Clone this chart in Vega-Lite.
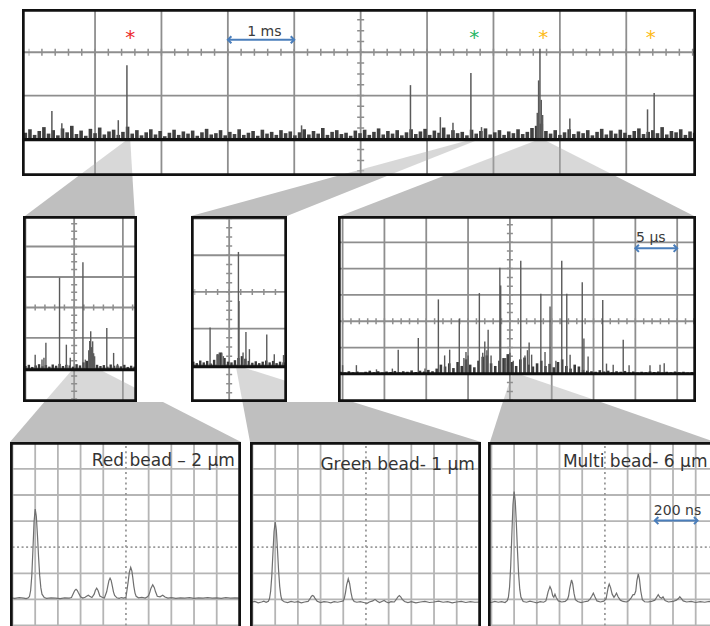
{
"$schema": "https://vega.github.io/schema/vega-lite/v6.json",
"padding": {"top": 9, "left": 0, "right": 0, "bottom": 0},
"background": "white",
"spacing": 0,
"config": {
  "view": {"stroke": null},
  "concat": {"spacing": 0},
  "axis": {"disable": true, "labels": false, "ticks": false, "domain": false, "grid": false, "minExtent": 0, "maxExtent": 0},
  "text": {"font": "DejaVu Sans"}
},
"vconcat": [
{
 "bounds": "flush",
 "hconcat": [
  {"width": 22, "height": 167, "mark": {"type": "rect", "opacity": 0}},
  {"width": 674, "height": 167,
   "layer": [
    {"data": {"values": [{"v":1},{"v":2},{"v":3},{"v":4},{"v":5},{"v":6},{"v":7},{"v":8},{"v":9}]},
     "mark": {"type":"rule","color":"#8e8e8e","strokeWidth":1.8,"clip":true},
     "encoding": {"x": {"field":"v","type":"quantitative","scale":{"domain":[-0.1,10.05],"nice":false,"zero":false},"axis":null}}},
    {"data": {"values": [{"v":0},{"v":1},{"v":2}]},
     "mark": {"type":"rule","color":"#8e8e8e","strokeWidth":1.8,"clip":true},
     "encoding": {"y": {"field":"v","type":"quantitative","scale":{"domain":[-0.86,3],"nice":false,"zero":false},"axis":null}}},
    {"data": {"values": [
      {"g":"L","y":-0.02,"x":1.48,"x2":1.53},{"g":"L","y":-0.86,"x":0.748,"x2":1.563},
      {"g":"M","y":-0.02,"x":6.65,"x2":6.77},{"g":"M","y":-0.86,"x":4.644,"x2":5.396},
      {"g":"R","y":-0.02,"x":7.67,"x2":7.76},{"g":"R","y":-0.86,"x":6.249,"x2":8.838}]},
     "mark": {"type":"area","orient":"horizontal","color":"#a8a8a8","opacity":0.45,"clip":true},
     "encoding": {"x": {"field":"x","type":"quantitative","stack":null},"x2": {"field":"x2"},"y": {"field":"y","type":"quantitative"},"detail": {"field":"g"}}},
    {"data": {"values": [{}]}, "mark": {"type":"rule","color":"#8e8e8e","strokeWidth":7,"strokeDash":[1.5,11.78],"strokeDashOffset":0.75,"clip":true},
     "encoding": {"x":{"datum":0},"x2":{"datum":10.05},"y":{"datum":2}}},
    {"data": {"values": [{}]}, "mark": {"type":"rule","color":"#8e8e8e","strokeWidth":7,"strokeDash":[1.5,9.315],"strokeDashOffset":0.75,"clip":true},
     "encoding": {"x":{"datum":5},"y":{"datum":-0.75},"y2":{"datum":3}}},
    {"data": {"values": [
      {"x":-0.05,"h":0.14},{"x":0.02,"h":0.22},{"x":0.09,"h":0.09},{"x":0.16,"h":0.18},{"x":0.23,"h":0.27},{"x":0.30,"h":0.12},{"x":0.37,"h":0.2},{"x":0.44,"h":0.08},{"x":0.51,"h":0.24},{"x":0.58,"h":0.15},{"x":0.65,"h":0.3},{"x":0.72,"h":0.11},
      {"x":0.79,"h":0.19},{"x":0.86,"h":0.07},{"x":0.93,"h":0.23},{"x":1.00,"h":0.13},{"x":1.07,"h":0.26},{"x":1.14,"h":0.1},{"x":1.21,"h":0.17},{"x":1.28,"h":0.21},{"x":1.35,"h":0.09},{"x":1.42,"h":0.16},{"x":1.49,"h":0.28},{"x":1.56,"h":0.12},
      {"x":1.63,"h":0.2},{"x":1.70,"h":0.08},{"x":1.77,"h":0.15},{"x":1.84,"h":0.22},{"x":1.91,"h":0.1},{"x":1.98,"h":0.18},{"x":2.05,"h":0.06},{"x":2.12,"h":0.14},{"x":2.19,"h":0.21},{"x":2.26,"h":0.09},{"x":2.33,"h":0.17},{"x":2.40,"h":0.12},
      {"x":2.47,"h":0.19},{"x":2.54,"h":0.07},{"x":2.61,"h":0.15},{"x":2.68,"h":0.23},{"x":2.75,"h":0.1},{"x":2.82,"h":0.13},{"x":2.89,"h":0.2},{"x":2.96,"h":0.08},{"x":3.03,"h":0.16},{"x":3.10,"h":0.11},{"x":3.17,"h":0.22},{"x":3.24,"h":0.09},
      {"x":3.31,"h":0.14},{"x":3.38,"h":0.18},{"x":3.45,"h":0.07},{"x":3.52,"h":0.21},{"x":3.59,"h":0.12},{"x":3.66,"h":0.16},{"x":3.73,"h":0.09},{"x":3.80,"h":0.2},{"x":3.87,"h":0.13},{"x":3.94,"h":0.17},{"x":4.01,"h":0.08},{"x":4.08,"h":0.15},
      {"x":4.15,"h":0.22},{"x":4.22,"h":0.1},{"x":4.29,"h":0.18},{"x":4.36,"h":0.12},{"x":4.43,"h":0.25},{"x":4.50,"h":0.09},{"x":4.57,"h":0.16},{"x":4.64,"h":0.2},{"x":4.71,"h":0.11},{"x":4.78,"h":0.14},{"x":4.85,"h":0.07},{"x":4.92,"h":0.19},
      {"x":4.99,"h":0.13},{"x":5.06,"h":0.21},{"x":5.13,"h":0.09},{"x":5.20,"h":0.16},{"x":5.27,"h":0.24},{"x":5.34,"h":0.1},{"x":5.41,"h":0.18},{"x":5.48,"h":0.12},{"x":5.55,"h":0.2},{"x":5.62,"h":0.08},{"x":5.69,"h":0.15},{"x":5.76,"h":0.22},
      {"x":5.83,"h":0.11},{"x":5.90,"h":0.17},{"x":5.97,"h":0.23},{"x":6.04,"h":0.09},{"x":6.11,"h":0.19},{"x":6.18,"h":0.14},{"x":6.25,"h":0.26},{"x":6.32,"h":0.1},{"x":6.39,"h":0.2},{"x":6.46,"h":0.13},{"x":6.53,"h":0.16},{"x":6.60,"h":0.08},
      {"x":6.67,"h":0.21},{"x":6.74,"h":0.12},{"x":6.81,"h":0.18},{"x":6.88,"h":0.24},{"x":6.95,"h":0.1},{"x":7.02,"h":0.15},{"x":7.09,"h":0.2},{"x":7.16,"h":0.09},{"x":7.23,"h":0.17},{"x":7.30,"h":0.13},{"x":7.37,"h":0.22},{"x":7.44,"h":0.11},
      {"x":7.51,"h":0.16},{"x":7.58,"h":0.25},{"x":7.65,"h":0.3},{"x":7.72,"h":0.35},{"x":7.79,"h":0.18},{"x":7.86,"h":0.12},{"x":7.93,"h":0.2},{"x":8.00,"h":0.09},{"x":8.07,"h":0.15},{"x":8.14,"h":0.22},{"x":8.21,"h":0.11},{"x":8.28,"h":0.17},
      {"x":8.35,"h":0.13},{"x":8.42,"h":0.2},{"x":8.49,"h":0.08},{"x":8.56,"h":0.16},{"x":8.63,"h":0.23},{"x":8.70,"h":0.1},{"x":8.77,"h":0.19},{"x":8.84,"h":0.12},{"x":8.91,"h":0.21},{"x":8.98,"h":0.14},{"x":9.05,"h":0.09},{"x":9.12,"h":0.18},
      {"x":9.19,"h":0.24},{"x":9.26,"h":0.11},{"x":9.33,"h":0.16},{"x":9.40,"h":0.2},{"x":9.47,"h":0.13},{"x":9.54,"h":0.27},{"x":9.61,"h":0.1},{"x":9.68,"h":0.18},{"x":9.75,"h":0.15},{"x":9.82,"h":0.22},{"x":9.89,"h":0.09},{"x":9.96,"h":0.17},{"x":10.03,"h":0.14}]},
     "mark": {"type":"rule","color":"#404040","strokeWidth":3.6,"clip":true},
     "encoding": {"x":{"field":"x","type":"quantitative"},"y":{"field":"h","type":"quantitative"},"y2":{"datum":-0.02}}},
    {"data": {"values": [
      {"x":0.35,"h":0.64},{"x":0.5,"h":0.36},{"x":1.35,"h":0.43},{"x":1.48,"h":1.7},{"x":4.11,"h":0.31},{"x":5.75,"h":1.24},{"x":6.2,"h":0.5},{"x":6.39,"h":0.37},{"x":6.66,"h":1.52},{"x":6.82,"h":0.27},
      {"x":7.66,"h":0.6},{"x":7.68,"h":1.35},{"x":7.7,"h":2.08},{"x":7.72,"h":0.9},{"x":7.74,"h":0.55},{"x":8.15,"h":0.47},{"x":9.32,"h":0.68},{"x":9.42,"h":1.06}]},
     "mark": {"type":"rule","color":"#5a5a5a","strokeWidth":1.5,"clip":true},
     "encoding": {"x":{"field":"x","type":"quantitative"},"y":{"field":"h","type":"quantitative"},"y2":{"datum":-0.02}}},
    {"data": {"values": [{}]}, "mark": {"type":"rule","color":"#111111","strokeWidth":3.4,"clip":true},
     "encoding": {"x":{"datum":-0.1},"x2":{"datum":10.05},"y":{"datum":-0.02}}},
    {"data": {"values": [{"x":1.53,"y":2.18,"bead":"red"},{"x":6.71,"y":2.18,"bead":"green"},{"x":7.75,"y":2.18,"bead":"multi"},{"x":9.37,"y":2.18,"bead":"multi"}]},
     "mark": {"type":"text","text":"*","fontSize":20,"align":"center","baseline":"alphabetic"},
     "encoding": {"x":{"field":"x","type":"quantitative"},"y":{"field":"y","type":"quantitative"},
      "color":{"field":"bead","type":"nominal","scale":{"domain":["red","green","multi"],"range":["#ec2a2d","#27b565","#fdbb17"]},"legend":null}}},
    {"data": {"values": [{"x1":3.0,"x2":4.0,"y":2.29}]}, "mark": {"type":"rule","color":"#4a7ebb","strokeWidth":2},
     "encoding": {"x":{"field":"x1","type":"quantitative"},"x2":{"field":"x2"},"y":{"field":"y","type":"quantitative"}}},
    {"data": {"values": [{"x1":3.0,"x2":4.0,"y":2.29}]}, "mark": {"type":"point","shape":"M1,-1L0,0L1,1","filled":false,"size":50,"strokeWidth":2,"color":"#4a7ebb","opacity":1},
     "encoding": {"x":{"field":"x1","type":"quantitative"},"y":{"field":"y","type":"quantitative"}}},
    {"data": {"values": [{"x1":3.0,"x2":4.0,"y":2.29}]}, "mark": {"type":"point","shape":"M-1,-1L0,0L-1,1","filled":false,"size":50,"strokeWidth":2,"color":"#4a7ebb","opacity":1},
     "encoding": {"x":{"field":"x2","type":"quantitative"},"y":{"field":"y","type":"quantitative"}}},
    {"data": {"values": [{"x":3.55,"y":2.38,"label":"1 ms"}]}, "mark": {"type":"text","fontSize":14,"align":"center","baseline":"alphabetic","color":"#3a3a3a"},
     "encoding": {"x":{"field":"x","type":"quantitative"},"y":{"field":"y","type":"quantitative"},"text":{"field":"label"}}},
    {"data": {"values": [{}]}, "mark": {"type":"rule","color":"#111111","strokeWidth":5.4,"clip":true},
     "encoding": {"x":{"datum":-0.1},"y":{"datum":-0.86},"y2":{"datum":3}}},
    {"data": {"values": [{}]}, "mark": {"type":"rule","color":"#111111","strokeWidth":5.4,"clip":true},
     "encoding": {"x":{"datum":10.05},"y":{"datum":-0.86},"y2":{"datum":3}}},
    {"data": {"values": [{}]}, "mark": {"type":"rule","color":"#111111","strokeWidth":5.4,"clip":true},
     "encoding": {"x":{"datum":-0.1},"x2":{"datum":10.05},"y":{"datum":3}}},
    {"data": {"values": [{}]}, "mark": {"type":"rule","color":"#111111","strokeWidth":5.4,"clip":true},
     "encoding": {"x":{"datum":-0.1},"x2":{"datum":10.05},"y":{"datum":-0.86}}}
   ]}
 ]
},
{"width": 710, "height": 40,
 "data": {"values": [
   {"g":"L","y":1,"x":0.748,"x2":1.563},{"g":"L","y":0,"x":-0.055,"x2":1.6},
   {"g":"M","y":1,"x":4.644,"x2":5.396},{"g":"M","y":0,"x":2.445,"x2":3.89},
   {"g":"R","y":1,"x":6.249,"x2":8.838},{"g":"R","y":0,"x":4.69,"x2":10.02}]},
 "mark": {"type":"area","orient":"horizontal","color":"#bfbfbf","opacity":1,"clip":true},
 "encoding": {
   "x": {"field":"x","type":"quantitative","stack":null,"scale":{"domain":[-0.431,10.261],"nice":false,"zero":false},"axis":null},
   "x2": {"field":"x2"},
   "y": {"field":"y","type":"quantitative","scale":{"domain":[0,1],"nice":false,"zero":false},"axis":null},
   "detail": {"field":"g"}}
},
{
 "bounds": "flush",
 "hconcat": [
  {"width": 23, "height": 186, "mark": {"type": "rect", "opacity": 0}},
  {"width": 114, "height": 186,
   "layer": [
    {"data": {"values": [{"v":-1},{"v":0},{"v":1}]},
     "mark": {"type":"rule","color":"#8e8e8e","strokeWidth":1.8,"clip":true},
     "encoding": {"x": {"field":"v","type":"quantitative","scale":{"domain":[-1.05,1.29],"nice":false,"zero":false},"axis":null}}},
    {"data": {"values": [{"v":1},{"v":2},{"v":3},{"v":4},{"v":5}]},
     "mark": {"type":"rule","color":"#8e8e8e","strokeWidth":1.8,"clip":true},
     "encoding": {"y": {"field":"v","type":"quantitative","scale":{"domain":[-0.1,6],"nice":false,"zero":false},"axis":null}}},
    {"data": {"values": [{"g":"A","y":0.96,"x":-0.04,"x2":0.53},{"g":"A","y":-0.1,"x":-0.613,"x2":1.82}]},
     "mark": {"type":"area","orient":"horizontal","color":"#a8a8a8","opacity":0.45,"clip":true},
     "encoding": {"x": {"field":"x","type":"quantitative","stack":null},"x2": {"field":"x2"},"y": {"field":"y","type":"quantitative"},"detail": {"field":"g"}}},
    {"data": {"values": [{}]}, "mark": {"type":"rule","color":"#8e8e8e","strokeWidth":6,"strokeDash":[1.5,8.244],"strokeDashOffset":0.75,"clip":true},
     "encoding": {"x":{"datum":-1},"x2":{"datum":1.29},"y":{"datum":3}}},
    {"data": {"values": [{}]}, "mark": {"type":"rule","color":"#8e8e8e","strokeWidth":6,"strokeDash":[1.5,6.12],"strokeDashOffset":0.75,"clip":true},
     "encoding": {"x":{"datum":0},"y":{"datum":0},"y2":{"datum":6}}},
    {"data": {"values": [
      {"x":-1.0,"h":1.08},{"x":-0.93,"h":1.12},{"x":-0.86,"h":1.05},{"x":-0.79,"h":1.1},{"x":-0.72,"h":1.14},{"x":-0.65,"h":1.07},{"x":-0.58,"h":1.11},{"x":-0.51,"h":1.06},{"x":-0.44,"h":1.13},{"x":-0.37,"h":1.09},{"x":-0.3,"h":1.15},
      {"x":-0.23,"h":1.08},{"x":-0.16,"h":1.12},{"x":-0.09,"h":1.1},{"x":-0.02,"h":1.06},{"x":0.05,"h":1.14},{"x":0.12,"h":1.1},{"x":0.19,"h":1.2},{"x":0.26,"h":1.25},{"x":0.33,"h":1.3},{"x":0.4,"h":1.18},{"x":0.47,"h":1.12},
      {"x":0.54,"h":1.08},{"x":0.61,"h":1.11},{"x":0.68,"h":1.06},{"x":0.75,"h":1.13},{"x":0.82,"h":1.09},{"x":0.89,"h":1.1},{"x":0.96,"h":1.07},{"x":1.03,"h":1.12},{"x":1.1,"h":1.05},{"x":1.17,"h":1.09},{"x":1.24,"h":1.06}]},
     "mark": {"type":"rule","color":"#3a3a3a","strokeWidth":2.4,"clip":true},
     "encoding": {"x":{"field":"x","type":"quantitative"},"y":{"field":"h","type":"quantitative"},"y2":{"datum":0.96}}},
    {"data": {"values": [
      {"x":-0.8,"h":1.45},{"x":-0.66,"h":1.29},{"x":-0.62,"h":1.35},{"x":-0.58,"h":1.84},{"x":-0.3,"h":3.98},{"x":-0.16,"h":1.78},{"x":-0.08,"h":1.35},{"x":0.18,"h":4.48},{"x":0.23,"h":1.29},
      {"x":0.3,"h":1.6},{"x":0.32,"h":1.9},{"x":0.34,"h":2.22},{"x":0.36,"h":1.7},{"x":0.38,"h":1.89},{"x":0.4,"h":1.5},{"x":0.42,"h":1.4},{"x":0.67,"h":2.33},{"x":0.81,"h":1.51},{"x":0.89,"h":1.15}]},
     "mark": {"type":"rule","color":"#5a5a5a","strokeWidth":1.4,"clip":true},
     "encoding": {"x":{"field":"x","type":"quantitative"},"y":{"field":"h","type":"quantitative"},"y2":{"datum":0.96}}},
    {"data": {"values": [{}]}, "mark": {"type":"rule","color":"#111111","strokeWidth":3,"clip":true},
     "encoding": {"x":{"datum":-1.05},"x2":{"datum":1.29},"y":{"datum":0.96}}},
    {"data": {"values": [{}]}, "mark": {"type":"rule","color":"#111111","strokeWidth":5.4,"clip":true},
     "encoding": {"x":{"datum":-1.05},"y":{"datum":-0.1},"y2":{"datum":6}}},
    {"data": {"values": [{}]}, "mark": {"type":"rule","color":"#111111","strokeWidth":5.4,"clip":true},
     "encoding": {"x":{"datum":1.29},"y":{"datum":-0.1},"y2":{"datum":6}}},
    {"data": {"values": [{}]}, "mark": {"type":"rule","color":"#111111","strokeWidth":5.4,"clip":true},
     "encoding": {"x":{"datum":-1.05},"x2":{"datum":1.29},"y":{"datum":6}}},
    {"data": {"values": [{}]}, "mark": {"type":"rule","color":"#111111","strokeWidth":5.4,"clip":true},
     "encoding": {"x":{"datum":-1.05},"x2":{"datum":1.29},"y":{"datum":-0.1}}}
   ]},
  {"width": 54, "height": 186, "mark": {"type": "rect", "opacity": 0}},
  {"width": 96, "height": 186,
   "layer": [
    {"data": {"values": [{"v":0}]},
     "mark": {"type":"rule","color":"#8e8e8e","strokeWidth":1.8,"clip":true},
     "encoding": {"x": {"field":"v","type":"quantitative","scale":{"domain":[-0.66,1.0],"nice":false,"zero":false},"axis":null}}},
    {"data": {"values": [{"v":1},{"v":2},{"v":3},{"v":4},{"v":5}]},
     "mark": {"type":"rule","color":"#8e8e8e","strokeWidth":1.8,"clip":true},
     "encoding": {"y": {"field":"v","type":"quantitative","scale":{"domain":[0,5.07],"nice":false,"zero":false},"axis":null}}},
    {"data": {"values": [{"g":"A","y":0.96,"x":0.118,"x2":0.205},{"g":"A","y":0,"x":0.23,"x2":2.14}]},
     "mark": {"type":"area","orient":"horizontal","color":"#a8a8a8","opacity":0.45,"clip":true},
     "encoding": {"x": {"field":"x","type":"quantitative","stack":null},"x2": {"field":"x2"},"y": {"field":"y","type":"quantitative"},"detail": {"field":"g"}}},
    {"data": {"values": [{}]}, "mark": {"type":"rule","color":"#8e8e8e","strokeWidth":6,"strokeDash":[1.5,10.066],"strokeDashOffset":0.75,"clip":true},
     "encoding": {"x":{"datum":-0.6},"x2":{"datum":1.0},"y":{"datum":3}}},
    {"data": {"values": [{}]}, "mark": {"type":"rule","color":"#8e8e8e","strokeWidth":6,"strokeDash":[1.5,7.67],"strokeDashOffset":0.75,"clip":true},
     "encoding": {"x":{"datum":0},"y":{"datum":0},"y2":{"datum":5.07}}},
    {"data": {"values": [
      {"x":-0.62,"h":1.1},{"x":-0.56,"h":1.06},{"x":-0.5,"h":1.13},{"x":-0.44,"h":1.08},{"x":-0.38,"h":1.12},{"x":-0.32,"h":1.05},{"x":-0.26,"h":1.15},{"x":-0.2,"h":1.3},{"x":-0.14,"h":1.35},
      {"x":-0.08,"h":1.2},{"x":-0.02,"h":1.1},{"x":0.04,"h":1.08},{"x":0.1,"h":1.14},{"x":0.16,"h":1.2},{"x":0.22,"h":1.25},{"x":0.28,"h":1.18},{"x":0.34,"h":1.12},{"x":0.4,"h":1.07},
      {"x":0.46,"h":1.11},{"x":0.52,"h":1.06},{"x":0.58,"h":1.1},{"x":0.64,"h":1.13},{"x":0.7,"h":1.08},{"x":0.76,"h":1.12},{"x":0.82,"h":1.06},{"x":0.88,"h":1.1},{"x":0.94,"h":1.08}]},
     "mark": {"type":"rule","color":"#3a3a3a","strokeWidth":2.4,"clip":true},
     "encoding": {"x":{"field":"x","type":"quantitative"},"y":{"field":"h","type":"quantitative"},"y2":{"datum":0.96}}},
    {"data": {"values": [
      {"x":-0.33,"h":2.03},{"x":-0.2,"h":1.3},{"x":-0.17,"h":1.35},{"x":-0.13,"h":1.33},{"x":-0.1,"h":1.25},{"x":0.16,"h":4.09},{"x":0.17,"h":2.75},{"x":0.24,"h":1.35},{"x":0.29,"h":1.91},
      {"x":0.35,"h":1.44},{"x":0.65,"h":1.84},{"x":0.78,"h":1.3},{"x":0.94,"h":1.28}]},
     "mark": {"type":"rule","color":"#5a5a5a","strokeWidth":1.4,"clip":true},
     "encoding": {"x":{"field":"x","type":"quantitative"},"y":{"field":"h","type":"quantitative"},"y2":{"datum":0.96}}},
    {"data": {"values": [{}]}, "mark": {"type":"rule","color":"#111111","strokeWidth":3,"clip":true},
     "encoding": {"x":{"datum":-0.66},"x2":{"datum":1.0},"y":{"datum":0.96}}},
    {"data": {"values": [{}]}, "mark": {"type":"rule","color":"#111111","strokeWidth":5.4,"clip":true},
     "encoding": {"x":{"datum":-0.66},"y":{"datum":0},"y2":{"datum":5.07}}},
    {"data": {"values": [{}]}, "mark": {"type":"rule","color":"#111111","strokeWidth":5.4,"clip":true},
     "encoding": {"x":{"datum":1.0},"y":{"datum":0},"y2":{"datum":5.07}}},
    {"data": {"values": [{}]}, "mark": {"type":"rule","color":"#111111","strokeWidth":5.4,"clip":true},
     "encoding": {"x":{"datum":-0.66},"x2":{"datum":1.0},"y":{"datum":5.07}}},
    {"data": {"values": [{}]}, "mark": {"type":"rule","color":"#111111","strokeWidth":5.4,"clip":true},
     "encoding": {"x":{"datum":-0.66},"x2":{"datum":1.0},"y":{"datum":0}}}
   ]},
  {"width": 51, "height": 186, "mark": {"type": "rect", "opacity": 0}},
  {"width": 358, "height": 186,
   "layer": [
    {"data": {"values": [{"v":-4},{"v":-3},{"v":-2},{"v":-1},{"v":0},{"v":1},{"v":2},{"v":3},{"v":4}]},
     "mark": {"type":"rule","color":"#8e8e8e","strokeWidth":1.8,"clip":true},
     "encoding": {"x": {"field":"v","type":"quantitative","scale":{"domain":[-4.11,4.45],"nice":false,"zero":false},"axis":null}}},
    {"data": {"values": [{"v":1},{"v":2},{"v":3},{"v":4},{"v":5},{"v":6}]},
     "mark": {"type":"rule","color":"#8e8e8e","strokeWidth":1.8,"clip":true},
     "encoding": {"y": {"field":"v","type":"quantitative","scale":{"domain":[-0.07,7],"nice":false,"zero":false},"axis":null}}},
    {"data": {"values": [{"g":"A","y":1.0,"x":0.053,"x2":0.196},{"g":"A","y":-0.07,"x":-0.168,"x2":2.174}]},
     "mark": {"type":"area","orient":"horizontal","color":"#a8a8a8","opacity":0.45,"clip":true},
     "encoding": {"x": {"field":"x","type":"quantitative","stack":null},"x2": {"field":"x2"},"y": {"field":"y","type":"quantitative"},"detail": {"field":"g"}}},
    {"data": {"values": [{}]}, "mark": {"type":"rule","color":"#8e8e8e","strokeWidth":6,"strokeDash":[1.5,6.864],"strokeDashOffset":0.75,"clip":true},
     "encoding": {"x":{"datum":-4},"x2":{"datum":4.45},"y":{"datum":3}}},
    {"data": {"values": [{}]}, "mark": {"type":"rule","color":"#8e8e8e","strokeWidth":6,"strokeDash":[1.5,7.27],"strokeDashOffset":0.75,"clip":true},
     "encoding": {"x":{"datum":0},"y":{"datum":0},"y2":{"datum":7}}},
    {"data": {"values": [
      {"x":-4.05,"h":1.08},{"x":-3.95,"h":1.05},{"x":-3.85,"h":1.1},{"x":-3.75,"h":1.06},{"x":-3.65,"h":1.09},{"x":-3.55,"h":1.04},{"x":-3.45,"h":1.08},{"x":-3.35,"h":1.12},{"x":-3.25,"h":1.06},{"x":-3.15,"h":1.1},
      {"x":-3.05,"h":1.05},{"x":-2.95,"h":1.09},{"x":-2.85,"h":1.07},{"x":-2.75,"h":1.11},{"x":-2.65,"h":1.06},{"x":-2.55,"h":1.1},{"x":-2.45,"h":1.08},{"x":-2.35,"h":1.13},{"x":-2.25,"h":1.07},{"x":-2.15,"h":1.12},
      {"x":-2.05,"h":1.09},{"x":-1.95,"h":1.15},{"x":-1.85,"h":1.1},{"x":-1.75,"h":1.2},{"x":-1.65,"h":1.35},{"x":-1.55,"h":1.28},{"x":-1.45,"h":1.4},{"x":-1.35,"h":1.22},{"x":-1.25,"h":1.45},{"x":-1.15,"h":1.3},
      {"x":-1.05,"h":1.55},{"x":-0.95,"h":1.35},{"x":-0.85,"h":1.25},{"x":-0.75,"h":1.5},{"x":-0.65,"h":1.65},{"x":-0.55,"h":1.7},{"x":-0.45,"h":1.4},{"x":-0.35,"h":1.3},{"x":-0.25,"h":1.5},{"x":-0.15,"h":1.6},
      {"x":-0.05,"h":1.75},{"x":0.05,"h":1.45},{"x":0.15,"h":1.3},{"x":0.25,"h":1.55},{"x":0.35,"h":1.62},{"x":0.45,"h":1.35},{"x":0.55,"h":1.28},{"x":0.65,"h":1.4},{"x":0.75,"h":1.5},{"x":0.85,"h":1.3},
      {"x":0.95,"h":1.38},{"x":1.05,"h":1.25},{"x":1.15,"h":1.45},{"x":1.25,"h":1.55},{"x":1.35,"h":1.3},{"x":1.45,"h":1.2},{"x":1.55,"h":1.35},{"x":1.65,"h":1.28},{"x":1.75,"h":1.15},{"x":1.85,"h":1.12},
      {"x":1.95,"h":1.1},{"x":2.05,"h":1.08},{"x":2.15,"h":1.14},{"x":2.25,"h":1.09},{"x":2.35,"h":1.12},{"x":2.45,"h":1.06},{"x":2.55,"h":1.1},{"x":2.65,"h":1.08},{"x":2.75,"h":1.11},{"x":2.85,"h":1.07},
      {"x":2.95,"h":1.09},{"x":3.05,"h":1.05},{"x":3.15,"h":1.08},{"x":3.25,"h":1.06},{"x":3.35,"h":1.1},{"x":3.45,"h":1.07},{"x":3.55,"h":1.09},{"x":3.65,"h":1.05},{"x":3.75,"h":1.08},{"x":3.85,"h":1.06},
      {"x":3.95,"h":1.09},{"x":4.05,"h":1.06},{"x":4.15,"h":1.08},{"x":4.25,"h":1.05},{"x":4.35,"h":1.07}]},
     "mark": {"type":"rule","color":"#3a3a3a","strokeWidth":2.6,"clip":true},
     "encoding": {"x":{"field":"x","type":"quantitative"},"y":{"field":"h","type":"quantitative"},"y2":{"datum":1.0}}},
    {"data": {"values": [
      {"x":-4.0,"h":1.33},{"x":-3.67,"h":1.33},{"x":-3.19,"h":1.17},{"x":-2.81,"h":1.2},{"x":-2.67,"h":1.92},{"x":-2.19,"h":2.36},{"x":-2.03,"h":1.2},{"x":-1.71,"h":3.83},{"x":-1.56,"h":1.7},{"x":-1.44,"h":1.92},
      {"x":-1.21,"h":3.09},{"x":-1.1,"h":1.6},{"x":-1.05,"h":1.83},{"x":-1.0,"h":1.7},{"x":-0.73,"h":4.07},{"x":-0.65,"h":1.8},{"x":-0.6,"h":2.23},{"x":-0.55,"h":1.9},{"x":-0.52,"h":2.68},{"x":-0.45,"h":1.7},
      {"x":-0.24,"h":5.03},{"x":-0.22,"h":4.36},{"x":-0.1,"h":1.6},{"x":0.0,"h":1.8},{"x":0.08,"h":1.5},{"x":0.26,"h":5.3},{"x":0.36,"h":1.7},{"x":0.42,"h":1.9},{"x":0.46,"h":2.19},{"x":0.52,"h":1.73},
      {"x":0.74,"h":4.04},{"x":0.84,"h":1.83},{"x":0.96,"h":3.56},{"x":1.1,"h":1.5},{"x":1.24,"h":5.3},{"x":1.36,"h":4.04},{"x":1.44,"h":1.73},{"x":1.73,"h":4.48},{"x":1.77,"h":2.34},{"x":1.87,"h":1.66},
      {"x":2.22,"h":3.81},{"x":2.31,"h":1.39},{"x":2.47,"h":1.35},{"x":2.71,"h":2.3},{"x":2.85,"h":1.33},{"x":3.35,"h":1.33},{"x":3.59,"h":1.35},{"x":3.69,"h":1.4}]},
     "mark": {"type":"rule","color":"#5a5a5a","strokeWidth":1.4,"clip":true},
     "encoding": {"x":{"field":"x","type":"quantitative"},"y":{"field":"h","type":"quantitative"},"y2":{"datum":1.0}}},
    {"data": {"values": [{}]}, "mark": {"type":"rule","color":"#111111","strokeWidth":3,"clip":true},
     "encoding": {"x":{"datum":-4.11},"x2":{"datum":4.45},"y":{"datum":1.0}}},
    {"data": {"values": [{"x1":3.0,"x2":4.0,"y":5.77}]}, "mark": {"type":"rule","color":"#4a7ebb","strokeWidth":2},
     "encoding": {"x":{"field":"x1","type":"quantitative"},"x2":{"field":"x2"},"y":{"field":"y","type":"quantitative"}}},
    {"data": {"values": [{"x1":3.0,"x2":4.0,"y":5.77}]}, "mark": {"type":"point","shape":"M1,-1L0,0L1,1","filled":false,"size":50,"strokeWidth":2,"color":"#4a7ebb","opacity":1},
     "encoding": {"x":{"field":"x1","type":"quantitative"},"y":{"field":"y","type":"quantitative"}}},
    {"data": {"values": [{"x1":3.0,"x2":4.0,"y":5.77}]}, "mark": {"type":"point","shape":"M-1,-1L0,0L-1,1","filled":false,"size":50,"strokeWidth":2,"color":"#4a7ebb","opacity":1},
     "encoding": {"x":{"field":"x2","type":"quantitative"},"y":{"field":"y","type":"quantitative"}}},
    {"data": {"values": [{"x":3.37,"y":6.02,"label":"5 μs"}]}, "mark": {"type":"text","fontSize":14,"align":"center","baseline":"alphabetic","color":"#3a3a3a"},
     "encoding": {"x":{"field":"x","type":"quantitative"},"y":{"field":"y","type":"quantitative"},"text":{"field":"label"}}},
    {"data": {"values": [{}]}, "mark": {"type":"rule","color":"#111111","strokeWidth":5.4,"clip":true},
     "encoding": {"x":{"datum":-4.11},"y":{"datum":-0.07},"y2":{"datum":7}}},
    {"data": {"values": [{}]}, "mark": {"type":"rule","color":"#111111","strokeWidth":5.4,"clip":true},
     "encoding": {"x":{"datum":4.45},"y":{"datum":-0.07},"y2":{"datum":7}}},
    {"data": {"values": [{}]}, "mark": {"type":"rule","color":"#111111","strokeWidth":5.4,"clip":true},
     "encoding": {"x":{"datum":-4.11},"x2":{"datum":4.45},"y":{"datum":7}}},
    {"data": {"values": [{}]}, "mark": {"type":"rule","color":"#111111","strokeWidth":5.4,"clip":true},
     "encoding": {"x":{"datum":-4.11},"x2":{"datum":4.45},"y":{"datum":-0.07}}}
   ]}
 ]
},
{
 "bounds": "flush",
 "hconcat": [
  {"width": 242, "height": 40,
   "data": {"values": [{"g":"A","y":1,"x":-3.6,"x2":1.63},{"g":"A","y":0,"x":-5.11,"x2":5.07}]},
   "mark": {"type":"area","orient":"horizontal","color":"#bfbfbf","opacity":1,"clip":true},
   "encoding": {
     "x": {"field":"x","type":"quantitative","stack":null,"scale":{"domain":[-5.551,5.11],"nice":false,"zero":false},"axis":null},
     "x2": {"field":"x2"},
     "y": {"field":"y","type":"quantitative","scale":{"domain":[0,1],"nice":false,"zero":false},"axis":null},
     "detail": {"field":"g"}}},
  {"width": 243, "height": 40,
   "data": {"values": [{"g":"A","y":1,"x":-5.44,"x2":-0.573},{"g":"A","y":0,"x":-5.11,"x2":5.07}]},
   "mark": {"type":"area","orient":"horizontal","color":"#bfbfbf","opacity":1,"clip":true},
   "encoding": {
     "x": {"field":"x","type":"quantitative","stack":null,"scale":{"domain":[-5.462,5.242],"nice":false,"zero":false},"axis":null},
     "x2": {"field":"x2"},
     "y": {"field":"y","type":"quantitative","scale":{"domain":[0,1],"nice":false,"zero":false},"axis":null},
     "detail": {"field":"g"}}},
  {"width": 225, "height": 40,
   "data": {"values": [{"g":"A","y":1,"x":-4.498,"x2":-0.181},{"g":"A","y":0,"x":-5.062,"x2":4.85}]},
   "mark": {"type":"area","orient":"horizontal","color":"#bfbfbf","opacity":1,"clip":true},
   "encoding": {
     "x": {"field":"x","type":"quantitative","stack":null,"scale":{"domain":[-5.282,4.63],"nice":false,"zero":false},"axis":null},
     "x2": {"field":"x2"},
     "y": {"field":"y","type":"quantitative","scale":{"domain":[0,1],"nice":false,"zero":false},"axis":null},
     "detail": {"field":"g"}}}
 ]
},
{
 "bounds": "flush",
 "hconcat": [
  {"width": 10, "height": 184, "mark": {"type": "rect", "opacity": 0}},
  {"width": 231, "height": 184,
   "layer": [
    {"data": {"values": [{"v":-5},{"v":-4},{"v":-3},{"v":-2},{"v":-1},{"v":1},{"v":2},{"v":3},{"v":4},{"v":5}]},
     "mark": {"type":"rule","color":"#b5b5b5","strokeWidth":1.8,"clip":true},
     "encoding": {"x": {"field":"v","type":"quantitative","scale":{"domain":[-5.11,5.07],"nice":false,"zero":false},"axis":null}}},
    {"data": {"values": [{"v":-3},{"v":-2},{"v":-1},{"v":1},{"v":2},{"v":3}]},
     "mark": {"type":"rule","color":"#b5b5b5","strokeWidth":1.8,"clip":true},
     "encoding": {"y": {"field":"v","type":"quantitative","scale":{"domain":[-3.02,4.03],"nice":false,"zero":false},"axis":null}}},
    {"data": {"values": [{}]}, "mark": {"type":"rule","color":"#9a9a9a","strokeWidth":1.8,"strokeDash":[2,2.54],"clip":true},
     "encoding": {"x":{"datum":-5},"x2":{"datum":5.07},"y":{"datum":0}}},
    {"data": {"values": [{}]}, "mark": {"type":"rule","color":"#9a9a9a","strokeWidth":1.8,"strokeDash":[2,3.22],"clip":true},
     "encoding": {"x":{"datum":0},"y":{"datum":-3},"y2":{"datum":4.03}}},
    {"data": {"values": [
      {"x":-5.1,"y":-1.94},{"x":-4.9,"y":-1.96},{"x":-4.7,"y":-1.93},{"x":-4.5,"y":-1.95},{"x":-4.4,"y":-1.97},{"x":-4.3,"y":-1.94},{"x":-4.25,"y":-1.88},{"x":-4.2,"y":-1.66},{"x":-4.15,"y":-1.1},{"x":-4.1,"y":-0.11},
      {"x":-4.05,"y":0.97},{"x":-4.0,"y":1.46},{"x":-3.95,"y":1.18},{"x":-3.9,"y":0.46},{"x":-3.85,"y":-0.39},{"x":-3.8,"y":-1.1},{"x":-3.75,"y":-1.56},{"x":-3.7,"y":-1.8},{"x":-3.6,"y":-1.93},{"x":-3.5,"y":-1.96},
      {"x":-3.3,"y":-1.94},{"x":-3.1,"y":-1.95},{"x":-2.9,"y":-1.97},{"x":-2.7,"y":-1.94},{"x":-2.5,"y":-1.95},{"x":-2.4,"y":-1.93},{"x":-2.3,"y":-1.74},{"x":-2.25,"y":-1.65},{"x":-2.2,"y":-1.61},{"x":-2.15,"y":-1.65},
      {"x":-2.1,"y":-1.74},{"x":-2.0,"y":-1.9},{"x":-1.9,"y":-1.95},{"x":-1.8,"y":-1.92},{"x":-1.7,"y":-1.86},{"x":-1.66,"y":-1.84},{"x":-1.6,"y":-1.88},{"x":-1.5,"y":-1.93},{"x":-1.4,"y":-1.8},{"x":-1.35,"y":-1.66},
      {"x":-1.29,"y":-1.57},{"x":-1.23,"y":-1.66},{"x":-1.15,"y":-1.87},{"x":-1.05,"y":-1.92},{"x":-0.95,"y":-1.95},{"x":-0.85,"y":-1.71},{"x":-0.8,"y":-1.49},{"x":-0.75,"y":-1.28},{"x":-0.7,"y":-1.19},{"x":-0.65,"y":-1.28},
      {"x":-0.6,"y":-1.49},{"x":-0.55,"y":-1.71},{"x":-0.5,"y":-1.85},{"x":-0.4,"y":-1.94},{"x":-0.3,"y":-1.96},{"x":-0.2,"y":-1.93},{"x":-0.1,"y":-1.95},{"x":0.0,"y":-1.92},{"x":0.05,"y":-1.62},{"x":0.1,"y":-1.31},
      {"x":0.15,"y":-0.96},{"x":0.21,"y":-0.77},{"x":0.26,"y":-0.91},{"x":0.3,"y":-1.16},{"x":0.35,"y":-1.51},{"x":0.4,"y":-1.76},{"x":0.45,"y":-1.88},{"x":0.55,"y":-1.94},{"x":0.7,"y":-1.92},{"x":0.85,"y":-1.95},
      {"x":0.95,"y":-1.9},{"x":1.0,"y":-1.85},{"x":1.05,"y":-1.73},{"x":1.1,"y":-1.58},{"x":1.18,"y":-1.44},{"x":1.25,"y":-1.55},{"x":1.3,"y":-1.7},{"x":1.38,"y":-1.88},{"x":1.5,"y":-1.9},{"x":1.62,"y":-1.84},
      {"x":1.72,"y":-1.91},{"x":1.85,"y":-1.95},{"x":2.0,"y":-1.93},{"x":2.2,"y":-1.96},{"x":2.4,"y":-1.94},{"x":2.6,"y":-1.95},{"x":2.8,"y":-1.93},{"x":3.0,"y":-1.96},{"x":3.2,"y":-1.94},{"x":3.4,"y":-1.95},
      {"x":3.6,"y":-1.93},{"x":3.8,"y":-1.95},{"x":4.0,"y":-1.94},{"x":4.2,"y":-1.96},{"x":4.4,"y":-1.93},{"x":4.6,"y":-1.95},{"x":4.8,"y":-1.94},{"x":5.06,"y":-1.95}]},
     "mark": {"type":"line","color":"#6f6f6f","strokeWidth":1.2,"clip":true},
     "encoding": {"x": {"field":"x","type":"quantitative"},"y": {"field":"y","type":"quantitative"}}},
    {"data": {"values": [{}]}, "mark": {"type":"rule","color":"#111111","strokeWidth":5.4,"clip":true},
     "encoding": {"x":{"datum":-5.11},"y":{"datum":-3.02},"y2":{"datum":4.03}}},
    {"data": {"values": [{}]}, "mark": {"type":"rule","color":"#111111","strokeWidth":5.4,"clip":true},
     "encoding": {"x":{"datum":5.07},"y":{"datum":-3.02},"y2":{"datum":4.03}}},
    {"data": {"values": [{}]}, "mark": {"type":"rule","color":"#111111","strokeWidth":5.4,"clip":true},
     "encoding": {"x":{"datum":-5.11},"x2":{"datum":5.07},"y":{"datum":4.03}}},
    {"data": {"values": [{"x":4.8,"y":3.12,"label":"Red bead – 2 μm"}]}, "mark": {"type":"text","fontSize":17,"align":"right","baseline":"alphabetic","color":"#333333"},
     "encoding": {"x":{"field":"x","type":"quantitative"},"y":{"field":"y","type":"quantitative"},"text":{"field":"label"}}}
   ]},
  {"width": 9, "height": 184, "mark": {"type": "rect", "opacity": 0}},
  {"width": 231, "height": 184,
   "layer": [
    {"data": {"values": [{"v":-5},{"v":-4},{"v":-3},{"v":-2},{"v":-1},{"v":1},{"v":2},{"v":3},{"v":4},{"v":5}]},
     "mark": {"type":"rule","color":"#b5b5b5","strokeWidth":1.8,"clip":true},
     "encoding": {"x": {"field":"v","type":"quantitative","scale":{"domain":[-5.11,5.07],"nice":false,"zero":false},"axis":null}}},
    {"data": {"values": [{"v":-3},{"v":-2},{"v":-1},{"v":1},{"v":2},{"v":3}]},
     "mark": {"type":"rule","color":"#b5b5b5","strokeWidth":1.8,"clip":true},
     "encoding": {"y": {"field":"v","type":"quantitative","scale":{"domain":[-3.02,4.03],"nice":false,"zero":false},"axis":null}}},
    {"data": {"values": [{}]}, "mark": {"type":"rule","color":"#9a9a9a","strokeWidth":1.8,"strokeDash":[2,2.54],"clip":true},
     "encoding": {"x":{"datum":-5},"x2":{"datum":5.07},"y":{"datum":0}}},
    {"data": {"values": [{}]}, "mark": {"type":"rule","color":"#9a9a9a","strokeWidth":1.8,"strokeDash":[2,3.22],"clip":true},
     "encoding": {"x":{"datum":0},"y":{"datum":-3},"y2":{"datum":4.03}}},
    {"data": {"values": [
      {"x":-5.1,"y":-2.12},{"x":-4.9,"y":-2.08},{"x":-4.75,"y":-2.13},{"x":-4.6,"y":-2.1},{"x":-4.5,"y":-2.07},{"x":-4.4,"y":-2.11},{"x":-4.3,"y":-2.07},{"x":-4.25,"y":-1.97},{"x":-4.2,"y":-1.69},{"x":-4.15,"y":-1.11},
      {"x":-4.1,"y":-0.24},{"x":-4.05,"y":0.6},{"x":-4.0,"y":0.96},{"x":-3.95,"y":0.66},{"x":-3.9,"y":-0.08},{"x":-3.85,"y":-0.89},{"x":-3.8,"y":-1.51},{"x":-3.75,"y":-1.87},{"x":-3.7,"y":-2.03},{"x":-3.6,"y":-2.09},
      {"x":-3.45,"y":-2.12},{"x":-3.3,"y":-2.08},{"x":-3.15,"y":-2.11},{"x":-3.0,"y":-2.09},{"x":-2.85,"y":-2.13},{"x":-2.7,"y":-2.1},{"x":-2.55,"y":-2.08},{"x":-2.45,"y":-1.95},{"x":-2.4,"y":-1.88},{"x":-2.35,"y":-1.85},
      {"x":-2.3,"y":-1.88},{"x":-2.25,"y":-1.95},{"x":-2.15,"y":-2.07},{"x":-2.0,"y":-2.12},{"x":-1.85,"y":-2.09},{"x":-1.7,"y":-2.1},{"x":-1.55,"y":-2.13},{"x":-1.4,"y":-2.09},{"x":-1.25,"y":-2.11},{"x":-1.1,"y":-2.08},
      {"x":-1.0,"y":-2.06},{"x":-0.95,"y":-1.95},{"x":-0.9,"y":-1.73},{"x":-0.85,"y":-1.44},{"x":-0.78,"y":-1.21},{"x":-0.72,"y":-1.39},{"x":-0.66,"y":-1.73},{"x":-0.6,"y":-1.98},{"x":-0.52,"y":-2.08},{"x":-0.4,"y":-2.11},
      {"x":-0.25,"y":-2.09},{"x":-0.1,"y":-2.12},{"x":0.05,"y":-2.15},{"x":0.15,"y":-2.1},{"x":0.3,"y":-2.06},{"x":0.4,"y":-2.0},{"x":0.5,"y":-2.07},{"x":0.6,"y":-2.12},{"x":0.7,"y":-2.08},{"x":0.8,"y":-2.04},
      {"x":0.9,"y":-2.1},{"x":1.0,"y":-2.13},{"x":1.1,"y":-2.09},{"x":1.25,"y":-2.1},{"x":1.35,"y":-1.98},{"x":1.41,"y":-1.9},{"x":1.47,"y":-1.85},{"x":1.53,"y":-1.9},{"x":1.6,"y":-2.0},{"x":1.7,"y":-2.08},
      {"x":1.85,"y":-2.12},{"x":2.0,"y":-2.09},{"x":2.2,"y":-2.13},{"x":2.4,"y":-2.1},{"x":2.6,"y":-2.08},{"x":2.8,"y":-2.12},{"x":3.0,"y":-2.1},{"x":3.2,"y":-2.07},{"x":3.4,"y":-2.11},{"x":3.6,"y":-2.09},
      {"x":3.8,"y":-2.13},{"x":4.0,"y":-2.1},{"x":4.2,"y":-2.08},{"x":4.4,"y":-2.12},{"x":4.6,"y":-2.09},{"x":4.8,"y":-2.11},{"x":5.06,"y":-2.1}]},
     "mark": {"type":"line","color":"#6f6f6f","strokeWidth":1.2,"clip":true},
     "encoding": {"x": {"field":"x","type":"quantitative"},"y": {"field":"y","type":"quantitative"}}},
    {"data": {"values": [{}]}, "mark": {"type":"rule","color":"#111111","strokeWidth":5.4,"clip":true},
     "encoding": {"x":{"datum":-5.11},"y":{"datum":-3.02},"y2":{"datum":4.03}}},
    {"data": {"values": [{}]}, "mark": {"type":"rule","color":"#111111","strokeWidth":5.4,"clip":true},
     "encoding": {"x":{"datum":5.07},"y":{"datum":-3.02},"y2":{"datum":4.03}}},
    {"data": {"values": [{}]}, "mark": {"type":"rule","color":"#111111","strokeWidth":5.4,"clip":true},
     "encoding": {"x":{"datum":-5.11},"x2":{"datum":5.07},"y":{"datum":4.03}}},
    {"data": {"values": [{"x":4.8,"y":2.96,"label":"Green bead- 1 μm"}]}, "mark": {"type":"text","fontSize":17,"align":"right","baseline":"alphabetic","color":"#333333"},
     "encoding": {"x":{"field":"x","type":"quantitative"},"y":{"field":"y","type":"quantitative"},"text":{"field":"label"}}}
   ]},
  {"width": 7, "height": 184, "mark": {"type": "rect", "opacity": 0}},
  {"width": 222, "height": 184,
   "layer": [
    {"data": {"values": [{"v":-5},{"v":-4},{"v":-3},{"v":-2},{"v":-1},{"v":1},{"v":2},{"v":3},{"v":4}]},
     "mark": {"type":"rule","color":"#b5b5b5","strokeWidth":1.8,"clip":true},
     "encoding": {"x": {"field":"v","type":"quantitative","scale":{"domain":[-5.15,4.63],"nice":false,"zero":false},"axis":null}}},
    {"data": {"values": [{"v":-3},{"v":-2},{"v":-1},{"v":1},{"v":2},{"v":3}]},
     "mark": {"type":"rule","color":"#b5b5b5","strokeWidth":1.8,"clip":true},
     "encoding": {"y": {"field":"v","type":"quantitative","scale":{"domain":[-3.02,4.03],"nice":false,"zero":false},"axis":null}}},
    {"data": {"values": [{}]}, "mark": {"type":"rule","color":"#9a9a9a","strokeWidth":1.8,"strokeDash":[2,2.54],"clip":true},
     "encoding": {"x":{"datum":-5},"x2":{"datum":4.63},"y":{"datum":0}}},
    {"data": {"values": [{}]}, "mark": {"type":"rule","color":"#9a9a9a","strokeWidth":1.8,"strokeDash":[2,3.22],"clip":true},
     "encoding": {"x":{"datum":0},"y":{"datum":-3},"y2":{"datum":4.03}}},
    {"data": {"values": [
      {"x":-5.15,"y":-2.1},{"x":-5.0,"y":-2.12},{"x":-4.85,"y":-2.08},{"x":-4.7,"y":-2.11},{"x":-4.55,"y":-2.09},{"x":-4.4,"y":-2.12},{"x":-4.3,"y":-2.05},{"x":-4.25,"y":-1.91},{"x":-4.2,"y":-1.53},{"x":-4.15,"y":-0.73},
      {"x":-4.1,"y":0.47},{"x":-4.05,"y":1.63},{"x":-4.0,"y":2.13},{"x":-3.95,"y":1.78},{"x":-3.9,"y":0.89},{"x":-3.85,"y":-0.16},{"x":-3.8,"y":-1.05},{"x":-3.75,"y":-1.62},{"x":-3.7,"y":-1.91},{"x":-3.6,"y":-2.08},
      {"x":-3.45,"y":-2.11},{"x":-3.3,"y":-2.07},{"x":-3.15,"y":-2.1},{"x":-3.0,"y":-2.13},{"x":-2.85,"y":-2.09},{"x":-2.7,"y":-2.11},{"x":-2.6,"y":-2.06},{"x":-2.55,"y":-1.89},{"x":-2.5,"y":-1.7},{"x":-2.42,"y":-1.51},
      {"x":-2.36,"y":-1.63},{"x":-2.3,"y":-1.86},{"x":-2.25,"y":-1.92},{"x":-2.2,"y":-1.8},{"x":-2.15,"y":-1.92},{"x":-2.05,"y":-2.06},{"x":-1.9,"y":-2.1},{"x":-1.75,"y":-2.08},{"x":-1.65,"y":-2.0},{"x":-1.6,"y":-1.87},
      {"x":-1.55,"y":-1.58},{"x":-1.47,"y":-1.25},{"x":-1.42,"y":-1.4},{"x":-1.36,"y":-1.77},{"x":-1.3,"y":-2.01},{"x":-1.2,"y":-2.08},{"x":-1.05,"y":-2.12},{"x":-0.9,"y":-2.09},{"x":-0.75,"y":-2.07},{"x":-0.65,"y":-1.98},
      {"x":-0.58,"y":-1.88},{"x":-0.51,"y":-1.76},{"x":-0.44,"y":-1.9},{"x":-0.35,"y":-2.06},{"x":-0.2,"y":-2.1},{"x":-0.05,"y":-2.07},{"x":0.05,"y":-1.98},{"x":0.1,"y":-1.75},{"x":0.15,"y":-1.52},{"x":0.19,"y":-1.41},
      {"x":0.25,"y":-1.55},{"x":0.32,"y":-1.8},{"x":0.4,"y":-1.92},{"x":0.45,"y":-1.86},{"x":0.51,"y":-1.76},{"x":0.58,"y":-1.9},{"x":0.68,"y":-2.03},{"x":0.8,"y":-2.08},{"x":0.95,"y":-2.1},{"x":1.05,"y":-2.05},
      {"x":1.15,"y":-1.95},{"x":1.24,"y":-1.82},{"x":1.3,"y":-1.82},{"x":1.36,"y":-1.68},{"x":1.41,"y":-1.28},{"x":1.47,"y":-1.02},{"x":1.52,"y":-1.21},{"x":1.58,"y":-1.68},{"x":1.65,"y":-2.01},{"x":1.75,"y":-2.09},
      {"x":1.9,"y":-2.1},{"x":2.05,"y":-2.08},{"x":2.2,"y":-2.03},{"x":2.28,"y":-1.92},{"x":2.35,"y":-1.82},{"x":2.42,"y":-1.92},{"x":2.5,"y":-1.96},{"x":2.56,"y":-1.9},{"x":2.65,"y":-2.04},{"x":2.8,"y":-2.1},
      {"x":3.0,"y":-2.08},{"x":3.15,"y":-2.03},{"x":3.25,"y":-1.96},{"x":3.3,"y":-1.9},{"x":3.37,"y":-1.97},{"x":3.45,"y":-2.06},{"x":3.6,"y":-2.1},{"x":3.8,"y":-2.08},{"x":4.0,"y":-2.12},{"x":4.2,"y":-2.09},
      {"x":4.4,"y":-2.11},{"x":4.6,"y":-2.08},{"x":4.7,"y":-2.1}]},
     "mark": {"type":"line","color":"#6f6f6f","strokeWidth":1.2,"clip":true},
     "encoding": {"x": {"field":"x","type":"quantitative"},"y": {"field":"y","type":"quantitative"}}},
    {"data": {"values": [{}]}, "mark": {"type":"rule","color":"#111111","strokeWidth":5.4,"clip":true},
     "encoding": {"x":{"datum":-5.15},"y":{"datum":-3.02},"y2":{"datum":4.03}}},
    {"data": {"values": [{}]}, "mark": {"type":"rule","color":"#111111","strokeWidth":5.4,"clip":true},
     "encoding": {"x":{"datum":-5.15},"x2":{"datum":4.63},"y":{"datum":4.03}}},
    {"data": {"values": [{"x":-1.85,"y":3.08,"label":"Multi bead- 6 μm"}]}, "mark": {"type":"text","fontSize":17,"align":"left","baseline":"alphabetic","color":"#333333","clip":true},
     "encoding": {"x":{"field":"x","type":"quantitative"},"y":{"field":"y","type":"quantitative"},"text":{"field":"label"}}},
    {"data": {"values": [{"x1":2.2,"x2":4.08,"y":1.02}]}, "mark": {"type":"rule","color":"#4a7ebb","strokeWidth":2},
     "encoding": {"x":{"field":"x1","type":"quantitative"},"x2":{"field":"x2"},"y":{"field":"y","type":"quantitative"}}},
    {"data": {"values": [{"x1":2.2,"x2":4.08,"y":1.02}]}, "mark": {"type":"point","shape":"M1,-1L0,0L1,1","filled":false,"size":50,"strokeWidth":2,"color":"#4a7ebb","opacity":1},
     "encoding": {"x":{"field":"x1","type":"quantitative"},"y":{"field":"y","type":"quantitative"}}},
    {"data": {"values": [{"x1":2.2,"x2":4.08,"y":1.02}]}, "mark": {"type":"point","shape":"M-1,-1L0,0L-1,1","filled":false,"size":50,"strokeWidth":2,"color":"#4a7ebb","opacity":1},
     "encoding": {"x":{"field":"x2","type":"quantitative"},"y":{"field":"y","type":"quantitative"}}},
    {"data": {"values": [{"x":3.2,"y":1.23,"label":"200 ns"}]}, "mark": {"type":"text","fontSize":14,"align":"center","baseline":"alphabetic","color":"#3a3a3a"},
     "encoding": {"x":{"field":"x","type":"quantitative"},"y":{"field":"y","type":"quantitative"},"text":{"field":"label"}}}
   ]}
 ]
}
]
}
